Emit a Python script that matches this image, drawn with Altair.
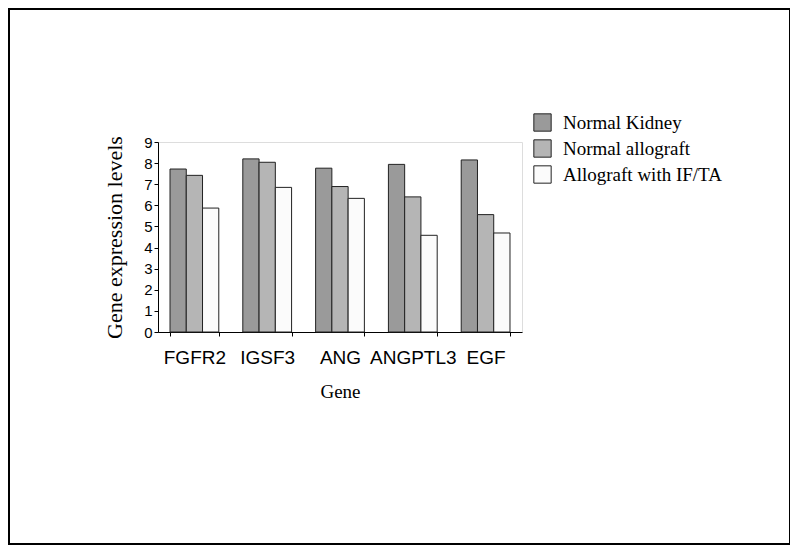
import altair as alt
import pandas as pd

genes = ["FGFR2", "IGSF3", "ANG", "ANGPTL3", "EGF"]
groups = ["Normal Kidney", "Normal allograft", "Allograft with IF/TA"]
normal_kidney = [7.72, 8.2, 7.76, 7.94, 8.15]
normal_allograft = [7.42, 8.04, 6.89, 6.4, 5.56]
allograft_ifta = [5.87, 6.85, 6.33, 4.58, 4.69]
colors = ["#9a9a9a", "#b5b5b5", "#fbfbfb"]

rows = []
for i, g in enumerate(genes):
    for grp, vals in zip(groups, [normal_kidney, normal_allograft, allograft_ifta]):
        rows.append({"Gene": g, "Group": grp, "Value": vals[i]})
df = pd.DataFrame(rows)

serif = "Liberation Serif"
sans = "Liberation Sans"

bars = alt.Chart(df).mark_bar(stroke="#222222", strokeWidth=1).encode(
    x=alt.X("Gene:N", sort=genes,
            scale=alt.Scale(paddingInner=0.33, paddingOuter=0.165),
            axis=alt.Axis(title="Gene", labelAngle=0, labelFont=sans, labelFontSize=19,
                          labelColor="black", labelPadding=12, tickBand="extent",
                          tickSize=4, tickColor="black", domainColor="black",
                          titleFont=serif, titleFontSize=19, titleFontWeight="normal",
                          titleColor="black", titlePadding=15)),
    xOffset=alt.XOffset("Group:N", sort=groups),
    y=alt.Y("Value:Q", scale=alt.Scale(domain=[0, 9], nice=False),
            axis=alt.Axis(title="Gene expression levels", values=list(range(10)),
                          grid=False, labelFont=sans, labelFontSize=15, labelColor="black",
                          tickSize=4, tickColor="black", domainColor="black", labelPadding=2,
                          titleFont=serif, titleFontSize=22, titleFontWeight="normal",
                          titleColor="black", titlePadding=17)),
    color=alt.Color("Group:N", sort=groups,
                    scale=alt.Scale(domain=groups, range=colors),
                    legend=alt.Legend(title=None, orient="none", legendX=375, legendY=-29,
                                      symbolType="square", symbolSize=300,
                                      symbolStrokeColor="#222222", symbolStrokeWidth=1,
                                      symbolOpacity=1,
                                      labelFont=serif, labelFontSize=19, labelColor="black",
                                      labelOffset=11, rowPadding=3)),
)

border = alt.Chart(pd.DataFrame({"a": [0]})).mark_rect(
    fill=None, stroke="black", strokeWidth=2
).encode(
    x=alt.value(-149), x2=alt.value(632), y=alt.value(-133), y2=alt.value(402)
)

chart = alt.layer(border, bars).properties(
    width=364, height=190,
    padding={"left": 150, "top": 134, "right": 268, "bottom": 213},
    autosize=alt.AutoSizeParams(type="none"),
).configure_view(stroke="#6a6a6a", strokeWidth=1).configure(background="white")

chart.save("out.html", embed_options={"renderer": "svg", "actions": False})
